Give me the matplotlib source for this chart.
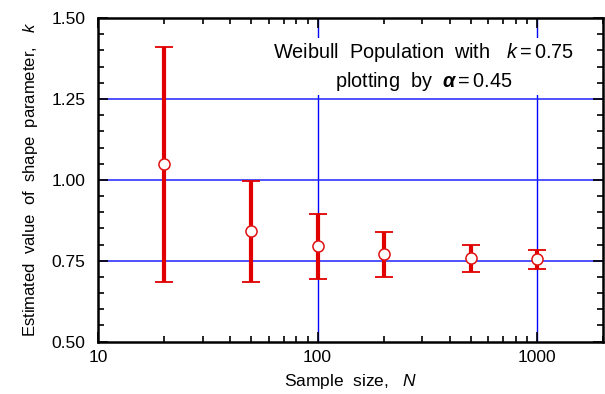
import matplotlib
matplotlib.use("Agg")
import matplotlib.pyplot as plt
from matplotlib.ticker import MultipleLocator, LogLocator, FixedLocator, NullFormatter

plt.rcParams['font.family'] = ['Liberation Sans', 'DejaVu Sans']
plt.rcParams['mathtext.fontset'] = 'custom'
plt.rcParams['mathtext.rm'] = 'Liberation Sans'
plt.rcParams['mathtext.it'] = 'Liberation Sans:italic'
plt.rcParams['mathtext.bf'] = 'Liberation Sans:bold:italic'

sample_size = [20, 50, 100, 200, 500, 1000]
k_mean = [1.048, 0.841, 0.794, 0.770, 0.758, 0.755]
k_upper = [1.410, 0.995, 0.896, 0.840, 0.799, 0.784]
k_lower = [0.683, 0.683, 0.692, 0.700, 0.715, 0.724]

fig = plt.figure(figsize=(6.05, 3.94), dpi=100)
ax = fig.add_axes([0.162, 0.133, 0.835, 0.821])

ax.set_xscale('log')
ax.set_xlim(10, 2000)
ax.set_ylim(0.5, 1.5)

# grid
for gx in [100, 1000]:
    ax.axvline(gx, color='#0000ff', lw=1.0, zorder=1)
for gy in [0.75, 1.0, 1.25]:
    ax.axhline(gy, color='#2222ff', lw=1.1, zorder=1)

lo = [m - l for m, l in zip(k_mean, k_lower)]
hi = [u - m for m, u in zip(k_mean, k_upper)]
eb = ax.errorbar(sample_size, k_mean, yerr=[lo, hi], fmt='none', ecolor='#e00000',
                 elinewidth=3, capsize=6.5, capthick=1.3, zorder=3)
for cap in eb[1]:
    cap.set_color('#ee5555')
ax.plot(sample_size, k_mean, 'o', ms=8, mfc='white', mec='#e01010', mew=1.1, zorder=4)

ax.yaxis.set_major_locator(FixedLocator([0.5, 0.75, 1.0, 1.25, 1.5]))
ax.yaxis.set_minor_locator(MultipleLocator(0.05))
ax.set_yticklabels(['0.50', '0.75', '1.00', '1.25', '1.50'])
ax.xaxis.set_major_locator(FixedLocator([10, 100, 1000]))
ax.xaxis.set_minor_locator(LogLocator(base=10, subs=range(2, 10)))
ax.xaxis.set_minor_formatter(NullFormatter())
ax.set_xticklabels(['10', '100', '1000'])

ax.tick_params(which='both', direction='in', top=True, right=True, labelsize=12.5, width=1.2)
ax.tick_params(which='major', length=7, pad=6)
ax.tick_params(axis='y', which='major', pad=9)
ax.tick_params(which='minor', length=4)
for s in ax.spines.values():
    s.set_linewidth(1.8)

ax.set_xlabel(r'Sample  size,   $N$', fontsize=12.5, labelpad=5)
ax.set_ylabel(r'Estimated  value  of  shape  parameter,   $k$', fontsize=12, labelpad=8)

ax.text(0.644, 0.85,
        "Weibull  Population  with   $k = 0.75$\nplotting  by  $\\mathbf{\\alpha} = 0.45$",
        transform=ax.transAxes, ha='center', va='center', fontsize=14.3,
        linespacing=1.35, zorder=5,
        bbox=dict(facecolor='white', edgecolor='none', pad=2))

fig.savefig('out.png', dpi=100)
